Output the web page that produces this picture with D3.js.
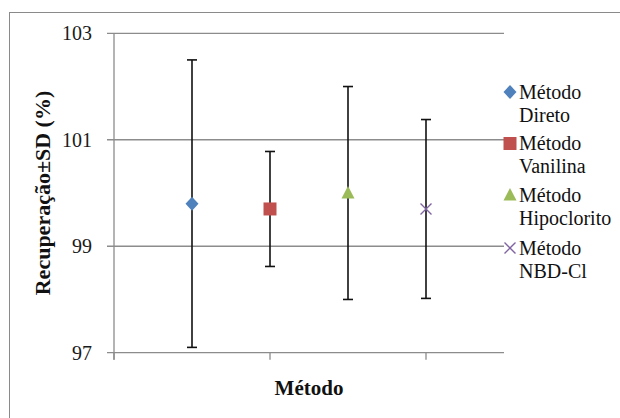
<!DOCTYPE html>
<html>
<head>
<meta charset="utf-8">
<script src="https://cdn.jsdelivr.net/npm/d3@7"></script>
<style>
  html, body { margin: 0; padding: 0; background: #fff; }
  svg { display: block; }
</style>
</head>
<body>
<svg id="chart" width="620" height="418" font-family="Liberation Serif"></svg>
<script>
// Recovery (%) per method, with standard deviation
const methods = ["Método Direto", "Método Vanilina", "Método Hipoclorito", "Método NBD-Cl"];
const legendLines = [["Método", "Direto"], ["Método", "Vanilina"], ["Método", "Hipoclorito"], ["Método", "NBD-Cl"]];
const xPositions = [1, 2, 3, 4];
const means = [99.8, 99.7, 100.0, 99.7];
const sds = [2.7, 1.08, 2.0, 1.68];
const yTicks = [97, 99, 101, 103];
const xTicks = [0, 2, 4];
const colors = ["#4F81BD", "#C0504D", "#9BBB59", "#8064A2"];
const shapes = ["diamond", "square", "triangle", "x"];

const FONT = "Liberation Serif";
const svg = d3.select("#chart");

// outer frame of the chart area
svg.append("rect")
  .attr("x", 9.5).attr("y", 12.5)
  .attr("width", 640).attr("height", 440)
  .attr("fill", "none").attr("stroke", "#8a8a8a").attr("stroke-width", 1);

const x = d3.scaleLinear().domain([0, 5]).range([114, 504]);
const y = d3.scaleLinear().domain([97, 103]).range([352.7, 33.3]);

// horizontal gridlines (extended left as tick marks)
svg.append("g")
  .selectAll("line")
  .data(yTicks)
  .join("line")
  .attr("x1", x(0) - 7).attr("x2", x(5))
  .attr("y1", d => y(d)).attr("y2", d => y(d))
  .attr("stroke", "#8c8c8c").attr("stroke-width", 1.3);

// y-axis line
svg.append("line")
  .attr("x1", x(0)).attr("x2", x(0))
  .attr("y1", y(103)).attr("y2", y(97) + 7)
  .attr("stroke", "#8c8c8c").attr("stroke-width", 1.3);

// x-axis ticks (labels hidden)
svg.append("g")
  .selectAll("line")
  .data(xTicks)
  .join("line")
  .attr("x1", d => x(d)).attr("x2", d => x(d))
  .attr("y1", y(97)).attr("y2", y(97) + 7)
  .attr("stroke", "#8c8c8c").attr("stroke-width", 1.3);

// y tick labels
svg.selectAll("text.ytick")
  .data(yTicks)
  .join("text")
  .attr("class", "ytick")
  .attr("x", 92).attr("y", d => y(d) + 7)
  .attr("text-anchor", "end")
  .attr("font-family", FONT)
  .attr("font-size", 20)
  .attr("fill", "#1a1a1a")
  .text(d => d);

// axis titles
svg.append("text")
  .attr("transform", `translate(50,${(y(97) + y(103)) / 2}) rotate(-90)`)
  .attr("text-anchor", "middle")
  .attr("font-family", FONT)
  .attr("font-size", 22).attr("font-weight", "bold")
  .attr("fill", "#111")
  .text("Recuperação±SD (%)");

svg.append("text")
  .attr("x", (x(0) + x(5)) / 2).attr("y", 395)
  .attr("text-anchor", "middle")
  .attr("font-family", FONT)
  .attr("font-size", 21).attr("font-weight", "bold")
  .attr("fill", "#111")
  .text("Método");

const data = methods.map((m, i) => ({
  name: m, xv: xPositions[i], mean: means[i], sd: sds[i],
  color: colors[i], shape: shapes[i]
}));

// error bars
const eb = svg.append("g").attr("stroke", "#111").attr("stroke-width", 1.6);
data.forEach(d => {
  const cx = x(d.xv);
  eb.append("line").attr("x1", cx).attr("x2", cx)
    .attr("y1", y(d.mean + d.sd)).attr("y2", y(d.mean - d.sd));
  [d.mean + d.sd, d.mean - d.sd].forEach(v => {
    eb.append("line").attr("x1", cx - 5).attr("x2", cx + 5)
      .attr("y1", y(v)).attr("y2", y(v));
  });
});

function drawMarker(g, shape, color, cx, cy) {
  if (shape === "diamond") {
    g.append("path")
      .attr("d", `M${cx},${cy - 7}L${cx + 6.5},${cy}L${cx},${cy + 7}L${cx - 6.5},${cy}Z`)
      .attr("fill", color);
  } else if (shape === "square") {
    g.append("rect").attr("x", cx - 6.5).attr("y", cy - 6.5)
      .attr("width", 13).attr("height", 13).attr("fill", color);
  } else if (shape === "triangle") {
    g.append("path")
      .attr("d", `M${cx},${cy - 7}L${cx + 6.5},${cy + 5.5}L${cx - 6.5},${cy + 5.5}Z`)
      .attr("fill", color);
  } else {
    g.append("path")
      .attr("d", `M${cx - 5.5},${cy - 5.5}L${cx + 5.5},${cy + 5.5}M${cx + 5.5},${cy - 5.5}L${cx - 5.5},${cy + 5.5}`)
      .attr("stroke", color).attr("stroke-width", 1.4).attr("fill", "none");
  }
}

// data markers
const mk = svg.append("g");
data.forEach(d => drawMarker(mk, d.shape, d.color, x(d.xv), y(d.mean)));

// legend: marker plus two text lines per entry
const legendY = [92, 143.5, 195, 248];
data.forEach((d, i) => {
  drawMarker(svg, d.shape, d.color, 510, legendY[i]);
  legendLines[i].forEach((line, k) => {
    svg.append("text")
      .attr("x", 519).attr("y", legendY[i] + 6.5 + k * 23)
      .attr("font-family", FONT)
      .attr("font-size", 20)
      .attr("fill", "#111")
      .text(line);
  });
});
</script>
</body>
</html>
